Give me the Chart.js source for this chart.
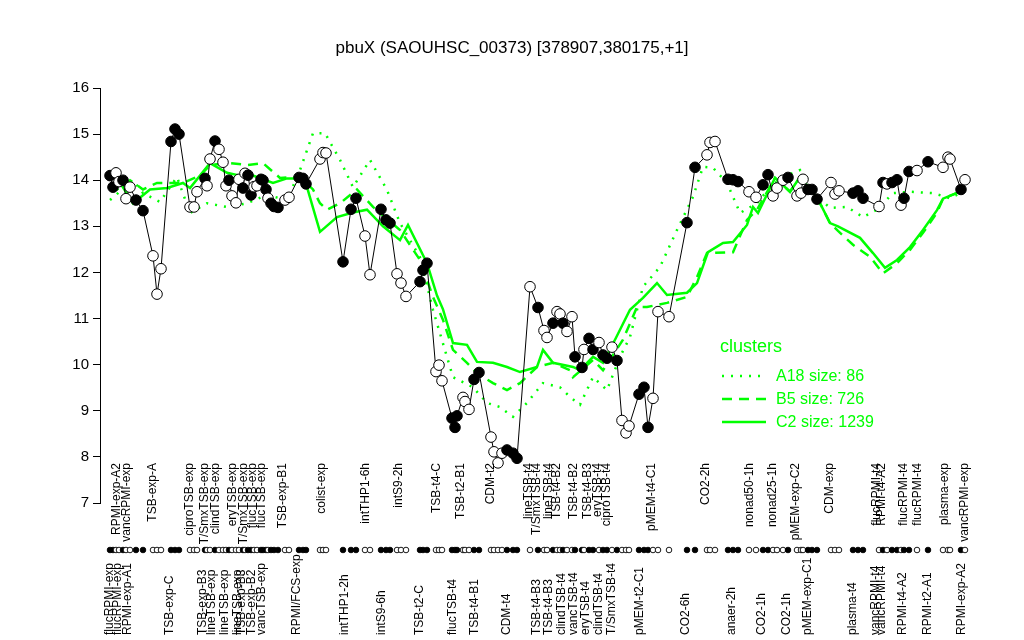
<!DOCTYPE html>
<html>
<head>
<meta charset="utf-8">
<script src="https://cdn.jsdelivr.net/npm/chart.js@4/dist/chart.umd.min.js"></script>
<style>
  html,body{margin:0;padding:0;background:#fff;}
  #wrap{width:1024px;height:640px;position:relative;}
</style>
</head>
<body>
<div id="wrap"><canvas id="c" width="1024" height="640"></canvas></div>
<script>
const FONT = "'Liberation Sans', Arial, Helvetica, sans-serif";

// sample positions along the condition axis, expression values and replicate fill
const pos = [10,13,16,19,23,26,30,36,43,53,57,61,71,75,79,90,94,97,105,107,110,115,119,123,126,129,132,136,139,143,145,148,151,154,157,161,163,166,168,171,174,178,185,189,199,203,206,220,223,226,243,251,256,265,270,281,286,290,297,301,306,320,323,327,336,339,342,352,355,357,363,365,369,374,379,391,394,398,402,407,413,417,430,438,444,447,453,457,460,463,467,472,475,482,484,489,493,499,503,507,512,517,522,526,529,539,544,548,553,558,569,587,595,607,610,615,628,633,638,649,656,663,668,673,677,683,688,697,701,703,708,712,717,731,735,739,753,758,763,779,783,787,792,797,801,804,809,817,828,843,848,850,861,865];
const expr = [14.1,13.85,14.16,13.97,14.0,13.6,13.85,13.57,13.34,12.36,11.53,12.08,14.84,15.11,15.0,13.42,13.42,13.75,14.04,13.88,14.46,14.85,14.67,14.39,13.88,14.0,13.66,13.51,14.02,13.83,14.15,14.11,13.68,13.86,13.88,14.02,14.0,13.8,13.61,13.5,13.43,13.41,13.57,13.63,14.06,14.04,13.92,14.46,14.6,14.59,12.23,13.37,13.61,12.79,11.95,13.37,13.14,13.07,11.97,11.77,11.48,11.8,12.05,12.2,9.85,9.99,9.65,8.84,8.64,8.89,9.29,9.2,9.03,9.68,9.83,8.43,8.11,7.87,8.08,8.15,8.08,7.97,11.69,11.24,10.74,10.59,10.9,11.15,11.1,10.9,10.72,11.04,10.17,9.94,10.33,10.57,10.33,10.48,10.21,10.14,10.38,10.09,8.79,8.52,8.67,9.36,9.51,8.64,9.27,11.15,11.04,13.08,14.28,14.55,14.82,14.84,14.02,14.01,13.97,13.75,13.63,13.9,14.12,13.66,13.83,14.0,14.06,13.66,13.72,14.02,13.8,13.8,13.59,13.95,13.7,13.77,13.72,13.77,13.61,13.43,13.95,13.92,13.95,14.01,13.46,13.61,14.19,14.21,14.4,14.28,14.5,14.46,13.8,14.01];
const filled = [1,1,0,0,1,0,0,1,1,0,0,0,1,1,1,0,0,0,1,0,0,1,0,0,0,1,0,0,0,1,0,1,1,0,0,1,1,1,0,1,1,1,0,0,1,1,1,0,0,0,1,1,1,0,0,1,1,1,0,0,0,1,1,1,0,0,0,1,1,1,0,0,0,1,1,0,0,0,0,1,1,1,0,1,0,0,1,0,0,1,0,0,1,1,0,1,1,0,1,1,0,1,0,0,0,1,1,1,0,0,0,1,1,0,0,0,1,1,1,0,0,1,1,0,0,0,1,0,0,0,1,1,1,0,0,0,1,1,1,0,1,0,1,1,0,1,1,0,1,0,0,0,1,0];

// cluster profiles
const a18Pos = [10,33,43,60,77,90,107,127,147,167,187,200,213,225,240,253,270,287,300,320,333,353,373,387,400,413,427,443,460,470,480,493,507,520,530,543,560,577,593,603,613,627,640,657,670,683,700,710,730,747,763,777,793,810,833,850,863];
const a18Val = [13.57,14.0,13.72,13.53,14.07,13.29,13.5,13.42,13.5,13.68,13.57,14.22,15.02,15.02,14.44,13.85,14.44,13.79,13.07,12.33,11.19,9.73,9.51,9.17,9.08,8.87,9.17,9.6,9.51,9.3,9.13,9.73,9.45,10.17,10.6,11.69,12.12,12.92,13.64,14.29,14.27,13.94,13.29,13.5,13.85,14.07,14.22,13.79,13.4,13.42,13.2,13.36,13.72,13.75,13.72,13.61,13.75];
const b5Pos = [10,17,30,43,57,67,83,100,110,130,147,163,180,200,213,220,227,240,257,273,300,320,333,343,353,367,377,393,407,420,437,453,470,473,493,503,523,537,547,567,587,597,607,633,647,657,675,690,700,717,730,738,753,770,783,797,810,823,837,843,860,865];
const b5Val = [13.9,13.8,14.0,13.8,13.94,13.94,13.94,14.1,14.33,14.37,14.33,14.37,14.05,14.07,13.8,13.5,13.36,13.5,13.8,13.42,12.92,12.27,11.47,10.97,10.32,10.04,9.82,9.6,9.45,9.6,9.95,10.04,9.88,9.73,10.1,9.88,10.54,11.25,11.25,11.34,11.47,11.9,12.42,12.44,13.14,13.36,14.05,13.75,14.07,13.63,13.07,12.9,12.6,12.34,11.98,12.2,12.49,12.86,13.3,13.6,13.75,13.83];
const c2Pos = [10,20,33,50,67,83,90,100,110,127,140,153,173,187,200,207,220,237,253,267,283,300,308,327,337,343,353,367,377,393,407,420,437,443,453,473,480,493,503,515,530,543,557,567,587,597,608,623,633,647,653,658,675,690,700,717,730,738,760,773,785,797,810,823,837,843,860,865];
const c2Val = [13.83,13.95,13.5,13.8,13.83,13.94,13.83,14.1,14.37,14.16,14.1,14.1,13.94,14.04,14.04,13.85,12.88,13.2,13.3,13.36,13.0,12.7,13.03,12.2,11.5,11.2,10.47,10.43,10.06,10.04,9.95,9.84,9.95,10.32,10.04,9.95,9.88,10.17,10.04,10.54,11.19,11.45,11.77,11.51,11.56,11.77,12.44,12.64,12.66,13.03,13.42,13.29,14.05,13.75,14.07,13.63,13.07,13.0,12.75,12.42,12.1,12.27,12.55,12.92,13.35,13.6,13.75,13.83];

// condition labels, above and below the strip of replicate markers
const topNames = ["RPMI-exp-A2","vancRPMI-exp","TSB-exp-A","ciproTSB-exp","T/SmxTSB-exp","clindTSB-exp","eryTSB-exp","T/SmxTSB-exp","flucTSB-exp","flucTSB-exp","TSB-exp-B1","colist-exp","intTHP1-6h","intS9-2h","TSB-t4-C","TSB-t2-B1","CDM-t2","lineTSB-t4","T/SmxTSB-t4","lineTSB-t4","TSB-t4-B2","TSB-t4-B2","TSB-t4-B3","eryTSB-t4","ciproTSB-t4","pMEM-t4-C1","CO2-2h","nonad50-1h","nonad25-1h","pMEM-exp-C2","CDM-exp","flucRPMI-t4","RPMI-t4-A2","flucRPMI-t4","flucRPMI-t4","plasma-exp","vancRPMI-exp"];
const topPos = [17,27,53,90,105,116,133,144,153,162,183,222,266,299,337,361,391,429,437,449,457,474,488,498,507,552,606,650,673,696,730,777,782,804,818,845,865];
const botNames = ["flucRPMI-exp","flucRPMI-exp","RPMI-exp-A1","TSB-exp-C","TSB-exp-B3","lineTSB-exp","lineTSB-exp","lineTSB-exp","TSB-exp-B3","TSB-exp-B2","vancTSB-exp","RPMI/FCS-exp","intTHP1-2h","intS9-6h","TSB-t2-C","flucTSB-t4","TSB-t4-B1","CDM-t4","TSB-t4-B3","TSB-t4-B3","clindTSB-t4","vancTSB-t4","eryTSB-t4","clindTSB-t4","T/SmxTSB-t4","pMEM-t2-C1","CO2-6h","anaer-2h","CO2-1h","CO2-1h","pMEM-exp-C1","plasma-t4","vancRPMI-t4","vancRPMI-t4","RPMI-t4-A2","RPMI-t2-A1","RPMI-exp-A2"];
const botPos = [10,18,28,70,103,112,125,138,142,152,162,197,245,282,320,353,375,407,437,449,462,474,486,499,512,540,586,632,662,687,708,753,776,782,803,828,862];

const clusterNames = ["A18 size: 86","B5 size: 726","C2 size: 1239"];
const GREEN = "#00ff00";
const DASHES = [[2,7],[10,7],[]];

const xy = (xs, ys) => xs.map((x,i)=>({x:x, y:ys[i]}));

const stripPlugin = {
  id:'strip',
  afterDraw(chart){
    const ctx = chart.ctx, xs = chart.scales.x;
    ctx.save();
    // replicate markers
    pos.forEach((p,i)=>{
      ctx.beginPath();
      ctx.arc(xs.getPixelForValue(p), 550, 2.8, 0, Math.PI*2);
      ctx.fillStyle = filled[i] ? '#000' : '#fff';
      ctx.fill();
      ctx.lineWidth = 0.9;
      ctx.strokeStyle = '#000';
      ctx.stroke();
    });
    ctx.fillStyle = '#000';
    ctx.font = "12px " + FONT;
    ctx.textBaseline = 'middle';
    topNames.forEach((n,i)=>{
      ctx.save();
      ctx.translate(xs.getPixelForValue(topPos[i]), 463);
      ctx.rotate(-Math.PI/2);
      ctx.textAlign = 'right';
      ctx.fillText(n, 0, 0);
      ctx.restore();
    });
    botNames.forEach((n,i)=>{
      ctx.save();
      ctx.translate(xs.getPixelForValue(botPos[i]), 635);
      ctx.rotate(-Math.PI/2);
      ctx.textAlign = 'left';
      ctx.fillText(n, 0, 0);
      ctx.restore();
    });
    // title
    ctx.font = "17px " + FONT;
    ctx.textAlign = 'center';
    ctx.textBaseline = 'alphabetic';
    ctx.fillText("pbuX (SAOUHSC_00373) [378907,380175,+1]", 512, 53);
    // cluster legend
    ctx.fillStyle = GREEN;
    ctx.textAlign = 'left';
    ctx.font = "18px " + FONT;
    ctx.fillText("clusters", 720, 352);
    ctx.font = "16px " + FONT;
    clusterNames.forEach((n,i)=>{
      const y = 376 + i*23;
      ctx.strokeStyle = GREEN;
      ctx.lineWidth = 2.5;
      ctx.setLineDash(DASHES[i]);
      ctx.beginPath();
      ctx.moveTo(722, y); ctx.lineTo(766, y);
      ctx.stroke();
      ctx.setLineDash([]);
      ctx.textBaseline = 'middle';
      ctx.fillText(n, 776, y+1);
    });
    ctx.restore();
  }
};

const clusterSet = (label, xs, ys, i) => ({
  label, data: xy(xs, ys), borderColor: GREEN, borderWidth: 2.5,
  borderDash: DASHES[i], pointRadius: 0, fill: false, tension: 0, order: 3 - i
});

new Chart(document.getElementById('c'), {
  type: 'line',
  data: {
    datasets: [
      {
        label: 'pbuX', data: xy(pos, expr), borderColor: '#000', borderWidth: 1,
        pointRadius: 5.3, pointBorderWidth: 1, pointBorderColor: '#000',
        pointBackgroundColor: filled.map(f => f ? '#000' : '#fff'),
        tension: 0, fill: false, order: 0
      },
      clusterSet(clusterNames[0], a18Pos, a18Val, 0),
      clusterSet(clusterNames[1], b5Pos, b5Val, 1),
      clusterSet(clusterNames[2], c2Pos, c2Val, 2)
    ]
  },
  options: {
    responsive: false,
    animation: false,
    layout: { padding: { top: 88, right: 49, bottom: 137, left: 0 } },
    plugins: { legend: { display: false }, tooltip: { enabled: false }, title: { display: false } },
    scales: {
      x: { type: 'linear', min: 0, max: 875, display: false },
      y: {
        type: 'linear', min: 7, max: 16,
        ticks: { stepSize: 1, color: '#000', font: { size: 15, family: FONT }, padding: 4 },
        grid: { drawOnChartArea: false, drawTicks: true, tickLength: 7, color: '#000' },
        border: { display: true, color: '#000', width: 1 },
        afterFit(s){ s.width = 100; }
      }
    }
  },
  plugins: [stripPlugin]
});
</script>
</body>
</html>
